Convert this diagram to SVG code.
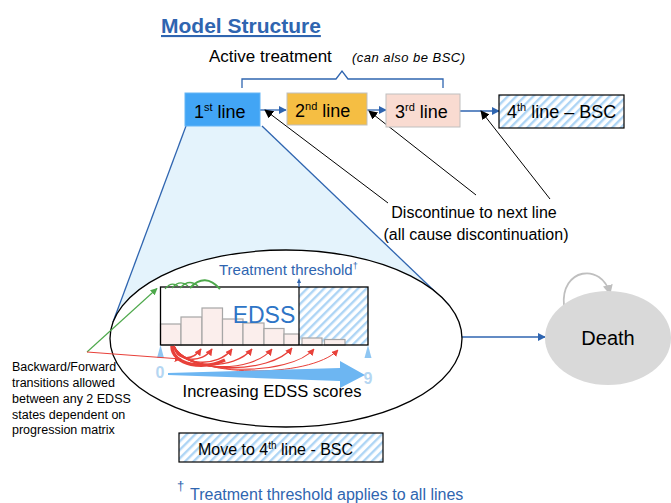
<svg xmlns="http://www.w3.org/2000/svg" width="671" height="503" viewBox="0 0 671 503">
<defs>
<style>
text{font-family:"Liberation Sans",Arial,sans-serif;}
.blk{fill:#000;}
.bl{fill:#2F65B0;}
.box{stroke:#BFBFBF;stroke-width:1;}
.blue-ln{stroke:#2F65B0;stroke-width:1.3;fill:none;}
.disc{stroke:#000;stroke-width:1;fill:none;}
.bar{fill:#FBEEEC;stroke:#A6A6A6;stroke-width:1.2;}
.red{stroke:#E8413A;fill:none;}
.grn{stroke:#4CA84A;fill:none;}
</style>
<pattern id="hatch" patternUnits="userSpaceOnUse" width="6" height="6" patternTransform="rotate(45)">
<rect width="6" height="6" fill="#fff"/><rect width="2.4" height="6" fill="#AED5F5"/>
</pattern>
<marker id="ab" viewBox="0 0 10 10" refX="9" refY="5" markerUnits="userSpaceOnUse" markerWidth="8" markerHeight="8" orient="auto"><path d="M0,0 L10,5 L0,10 z" fill="#2F65B0"/></marker>
<marker id="ak" viewBox="0 0 10 10" refX="9" refY="5" markerUnits="userSpaceOnUse" markerWidth="9" markerHeight="9" orient="auto"><path d="M0,0 L10,5 L0,10 z" fill="#000"/></marker>
<marker id="ar" viewBox="0 0 10 10" refX="9" refY="5" markerUnits="userSpaceOnUse" markerWidth="7" markerHeight="7" orient="auto"><path d="M0,0 L10,5 L0,10 z" fill="#E8413A"/></marker>
<marker id="ag" viewBox="0 0 10 10" refX="9" refY="5" markerUnits="userSpaceOnUse" markerWidth="7" markerHeight="7" orient="auto"><path d="M0,0 L10,5 L0,10 z" fill="#4CA84A"/></marker>
<marker id="agr" viewBox="0 0 10 10" refX="9" refY="5" markerUnits="userSpaceOnUse" markerWidth="10" markerHeight="10" orient="auto"><path d="M0,0 L10,5 L0,10 z" fill="#BFBFBF"/></marker>
</defs>
<rect width="671" height="503" fill="#fff"/>

<!-- title -->
<text x="161" y="33" font-size="21" font-weight="bold" class="bl" text-decoration="underline">Model Structure</text>
<text x="209" y="62" font-size="17" class="blk">Active treatment</text>
<text x="352" y="62" font-size="13" font-style="italic" class="blk" textLength="113">(can also be BSC)</text>
<path d="M242,88 V79 H336 L342,71 L348,79 H443 V88" class="blue-ln"/>

<!-- zoom wedge -->
<polygon points="186,126 262,126 449,305 113,322" fill="#E4F3FC"/>
<line x1="186" y1="126" x2="113" y2="322" class="blue-ln"/>
<line x1="262" y1="126" x2="449" y2="305" class="blue-ln"/>

<!-- connectors -->
<g id="connectors">
<line x1="260" y1="110" x2="286" y2="110" class="blue-ln" marker-end="url(#ab)"/>
<line x1="367" y1="110" x2="386" y2="110" class="blue-ln" marker-end="url(#ab)"/>
<line x1="460" y1="111" x2="499" y2="111" class="blue-ln" marker-end="url(#ab)"/>
<line x1="388" y1="203" x2="265" y2="110" class="disc" marker-end="url(#ak)"/>
<line x1="476" y1="195" x2="369" y2="111" class="disc" marker-end="url(#ak)"/>
<line x1="550" y1="199" x2="481" y2="111" class="disc" marker-end="url(#ak)"/>
<line x1="462" y1="337" x2="545" y2="337" class="blue-ln" marker-end="url(#ab)"/>
<path d="M564,306 C560,268 602,262 610,294" stroke="#BFBFBF" stroke-width="1.8" fill="none" marker-end="url(#agr)"/>
</g>

<g id="line1"><rect x="185" y="93" width="75" height="33" fill="#42A5F5" stroke="#64B5F6"/>
<text x="194" y="118" font-size="18" class="blk">1<tspan dy="-7" font-size="11">st</tspan><tspan dy="7"> line</tspan></text></g>
<g id="line2"><rect x="287" y="93" width="80" height="32" fill="#F5BE43" class="box"/>
<text x="295" y="117" font-size="18" class="blk">2<tspan dy="-7" font-size="11">nd</tspan><tspan dy="7"> line</tspan></text></g>
<g id="line3"><rect x="386" y="94" width="74" height="33" fill="#F9DBD1" class="box"/>
<text x="395" y="118" font-size="18" class="blk">3<tspan dy="-7" font-size="11">rd</tspan><tspan dy="7"> line</tspan></text></g>
<g id="line4"><rect x="499" y="95" width="125" height="33" fill="url(#hatch)" stroke="#000" stroke-width="1.2"/>
<text x="507" y="118" font-size="18" class="blk">4<tspan dy="-7" font-size="11">th</tspan><tspan dy="7"> line – BSC</tspan></text></g>

<text x="474" y="218" font-size="16" class="blk" text-anchor="middle">Discontinue to next line</text>
<text x="476" y="240" font-size="16" class="blk" text-anchor="middle">(all cause discontinuation)</text>

<!-- EDSS ellipse -->
<g id="edss-state">
<ellipse cx="286" cy="338.5" rx="176" ry="88.5" fill="#fff" stroke="#000" stroke-width="1.3"/>
<text x="219" y="275" font-size="15" class="bl">Treatment threshold<tspan dy="-6" font-size="9">†</tspan></text>
<rect x="299" y="287" width="69" height="58" fill="url(#hatch)"/>
<rect x="160.5" y="324" width="20.5" height="21" class="bar"/>
<rect x="181" y="317" width="21" height="28" class="bar"/>
<rect x="202" y="308" width="20.5" height="37" class="bar"/>
<rect x="222.5" y="319" width="20.5" height="26" class="bar"/>
<rect x="243" y="323" width="21" height="22" class="bar"/>
<rect x="264" y="328.5" width="20" height="16.5" class="bar"/>
<rect x="284" y="334" width="15" height="11" class="bar"/>
<rect x="302" y="338" width="20" height="7" class="bar"/>
<rect x="324.5" y="339.5" width="20.5" height="5.5" class="bar"/>
<rect x="160.5" y="287" width="207.5" height="58" fill="none" stroke="#000" stroke-width="1.3"/>
<line x1="299" y1="287" x2="299" y2="345" stroke="#000" stroke-width="1.2"/>
<path d="M299,287 V281" stroke="#2F65B0" stroke-width="1.3"/>
<path d="M297,283 L299,278 L301,283 z" fill="#2F65B0"/>
<text x="264" y="323" font-size="23" fill="#2E75C6" text-anchor="middle">EDSS</text>
<!-- red arcs -->
<path d="M172,346 C172,366 205,370 225,360" class="red" stroke-width="3.5"/>
<path d="M174,346 C176,360 192,362 201,349" class="red" stroke-width="1.6" marker-end="url(#ar)"/>
<path d="M174,346 C178,362 202,364 212,349" class="red" stroke-width="1.5" marker-end="url(#ar)"/>
<path d="M174,346 C180,366 218,368 232,349" class="red" stroke-width="1.4" marker-end="url(#ar)"/>
<path d="M174,346 C182,369 234,371 252,349" class="red" stroke-width="1.3" marker-end="url(#ar)"/>
<path d="M174,346 C184,372 252,374 272,349" class="red" stroke-width="1.2" marker-end="url(#ar)"/>
<path d="M174,346 C186,374 270,375 292,348" class="red" stroke-width="1.2" marker-end="url(#ar)"/>
<path d="M174,346 C188,376 290,377 314,349" class="red" stroke-width="1.1" marker-end="url(#ar)"/>
<path d="M174,346 C190,378 310,379 338,350" class="red" stroke-width="1" marker-end="url(#ar)"/>
<!-- green arcs -->
<path d="M190,288 Q205,272 220,289" class="grn" stroke-width="2"/>
<path d="M180,288 Q189,278 198,286" class="grn" stroke-width="1.3"/>
<path d="M172,288 Q180,279 188,286" class="grn" stroke-width="1.2"/>
<path d="M165,289 Q171,281 178,286" class="grn" stroke-width="1.1"/>
<!-- scale markers -->
<path d="M157,358 L160.5,345 L164,358 z" fill="#8FC6F2"/>
<path d="M364.5,358 L368,345 L371.5,358 z" fill="#8FC6F2"/>
<text x="160" y="378" font-size="16" font-weight="bold" fill="#B5D6F2" text-anchor="middle">0</text>
<text x="368" y="384" font-size="16" font-weight="bold" fill="#B5D6F2" text-anchor="middle">9</text>
<path d="M168,373 L340,368 L340,361 L365,375 L340,388 L340,381 L168,375 z" fill="#6DB6F2"/>
<text x="272" y="397" font-size="16.5" class="blk" text-anchor="middle">Increasing EDSS scores</text>
</g>

<!-- transition label -->
<g id="transition-label">
<line x1="87" y1="352" x2="157" y2="288.5" stroke="#4CA84A" stroke-width="1.1" marker-end="url(#ag)"/>
<line x1="87" y1="352" x2="181" y2="359" stroke="#E8413A" stroke-width="1.1" marker-end="url(#ar)"/>
<text font-size="12.5" class="blk">
<tspan x="12" y="371">Backward/Forward</tspan>
<tspan x="12" y="387">transitions allowed</tspan>
<tspan x="12" y="403">between any 2 EDSS</tspan>
<tspan x="12" y="418.5">states dependent on</tspan>
<tspan x="12" y="434">progression matrix</tspan>
</text>
</g>

<g id="death"><ellipse cx="608" cy="338" rx="63" ry="47" fill="#D9D9D9"/>
<text x="608" y="345" font-size="20" class="blk" text-anchor="middle">Death</text></g>

<g id="move4"><rect x="179" y="433" width="204" height="29" fill="url(#hatch)" stroke="#000" stroke-width="1.2"/>
<text x="198" y="455" font-size="16" class="blk">Move to 4<tspan dy="-6" font-size="10">th</tspan><tspan dy="6"> line - BSC</tspan></text></g>

<text x="177" y="490" font-size="13" class="bl">†</text>
<text x="190" y="500" font-size="16" class="bl">Treatment threshold applies to all lines</text>
</svg>
